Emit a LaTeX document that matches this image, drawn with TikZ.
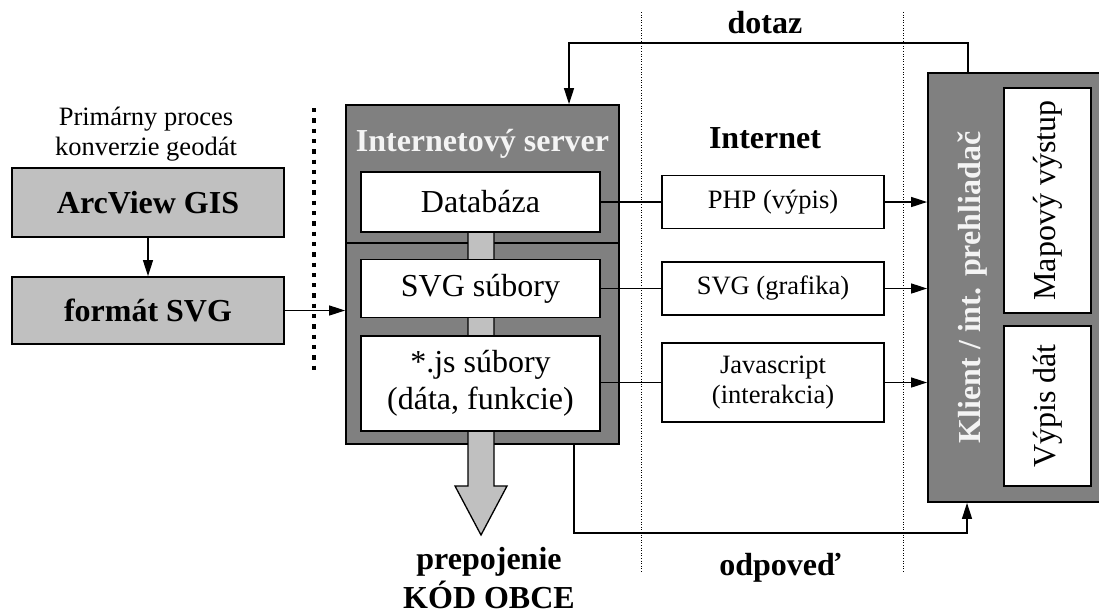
\documentclass[tikz,border=0pt]{standalone}
\usepackage{fontspec}
\setmainfont{Liberation Serif}
\usepackage{tikz}
\usetikzlibrary{arrows.meta,calc,positioning}

\definecolor{servergray}{RGB}{128,128,128}
\definecolor{boxgray}{RGB}{192,192,192}
\definecolor{titlewhite}{RGB}{244,244,244}
\newcommand\bigtype{\fontsize{32}{37}\selectfont}
\newcommand\smalltype{\fontsize{26.5}{30}\selectfont}

\begin{document}
\begin{tikzpicture}[x=1pt,y=-1pt]
\tikzset{
	gray box/.style = {rectangle, draw, line width=1.8, fill=boxgray, inner sep=0, font=\bigtype\bfseries},
	white box/.style = {rectangle, draw, line width=1.8, fill=white, inner sep=0, align=center},
	dark box/.style = {rectangle, draw, line width=1.8, fill=servergray, inner sep=0},
	link/.style = {line width=1.3},
	arrow/.style = {link, -{Triangle[length=16pt,width=10pt]}},
	zone line/.style = {line width=1, dash pattern=on 1 off 1.6},
	thick dots/.style = {line width=4.3, dash pattern=on 4.3 off 6},
}
\clip (0,0) rectangle (1099,614);

% zones
\draw[zone line] (641,12) -- (641,572);
\draw[zone line] (903,12) -- (903,572);
\draw[thick dots] (314,108) -- (314,375);

% conversion
\node(caption)[align=center, font=\smalltype] at (146,134) {Primárny proces\\konverzie geodát};
\node(arcview)[gray box, minimum width=272, minimum height=69] at (148,202.5) {ArcView GIS};
\node(format)[gray box, minimum width=272, minimum height=67] at (148,310.5) {formát SVG};
\draw[arrow](arcview)--(format);

% server
\node(server)[dark box, minimum width=273, minimum height=339] at (482.5,274.5) {};
\draw[line width=1.8] (server.west |- 0,243) -- (server.east |- 0,243);
\node(servertitle)[anchor=base, font=\bigtype\bfseries, text=titlewhite] at (482.5,151) {Internetový server};
\draw[link, fill=boxgray] (468,232) -- (468,486) -- (455,486) -- (481,535) -- (507,486) -- (494,486) -- (494,232) -- cycle;
\node(db)[white box, font=\bigtype, minimum width=239, minimum height=60] at (480.5,202) {Databáza};
\node(svgfiles)[white box, font=\bigtype, minimum width=239, minimum height=58] at (480.5,288.5) {SVG súbory};
\node(jsfiles)[white box, font=\bigtype, minimum width=239, minimum height=95] at (480.5,383.5) {*.js súbory\\(dáta, funkcie)};
\draw[arrow](format.east)--(format.east -| server.west);
\node(relink)[align=center, font=\fontsize{32}{39}\selectfont\bfseries] at (489,578) {prepojenie\\KÓD OBCE};

% internet
\node(internet)[anchor=base, font=\bigtype\bfseries] at (765,148) {Internet};
\node(php)[white box, font=\smalltype, minimum width=222, minimum height=53] at (773,202) {PHP (výpis)};
\node(svggraf)[white box, font=\smalltype, minimum width=222, minimum height=53] at (773,288.5) {SVG (grafika)};
\node(jscode)[white box, font=\smalltype, minimum width=222, minimum height=79] at (773,382.5) {Javascript\\(interakcia)};

% client
\node(client)[dark box, minimum width=176, minimum height=429] at (1016,287.5) {};
\node(clientlabel)[anchor=base, rotate=90, font=\bigtype\bfseries, text=titlewhite] at (980,287.5) {Klient / int. prehliadač};
\node(mapout)[white box, rotate=90, font=\bigtype, minimum width=225, minimum height=87] at (1047.5,200.5) {Mapový výstup};
\node(dataout)[white box, rotate=90, font=\bigtype, minimum width=160, minimum height=87] at (1047.5,406) {Výpis dát};

\draw[link](db)--(php);
\draw[link](svgfiles)--(svggraf);
\draw[link](jsfiles.east |- jscode)--(jscode.west);
\draw[arrow](php.east)--(php.east -| client.west);
\draw[arrow](svggraf.east)--(svggraf.east -| client.west);
\draw[arrow](jscode.east)--(jscode.east -| client.west);

% request and answer
\coordinate(askR) at (968,43);
\coordinate(askL) at (569,43);
\draw[arrow](askR |- client.north)--(askR)--(askL)--(askL |- server.north);
\node(ask)[anchor=base, font=\bigtype\bfseries] at (765,33) {dotaz};
\coordinate(answerL) at (574,533);
\coordinate(answerR) at (967,533);
\draw[arrow](answerL |- server.south)--(answerL)--(answerR)--(answerR |- client.south);
\node(answer)[anchor=base, font=\bigtype\bfseries] at (780,575) {odpoveď};
\end{tikzpicture}
\end{document}
